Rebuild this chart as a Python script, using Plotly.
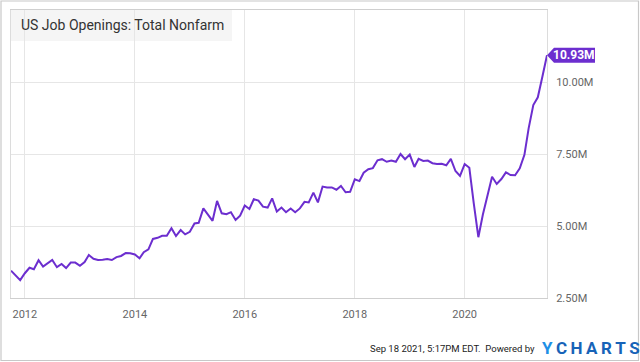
import pandas as pd
import plotly.graph_objects as go

# Monthly US job openings, total nonfarm (millions), Oct 2011 - Jul 2021
start_month = "2011-10-01"
openings_m = [
    3.45, 3.29, 3.12, 3.36, 3.55, 3.50, 3.81, 3.59, 3.70, 3.82, 3.57, 3.68,
    3.54, 3.73, 3.73, 3.62, 3.75, 3.99, 3.86, 3.82, 3.83, 3.85, 3.82, 3.92,
    3.96, 4.06, 4.05, 4.01, 3.88, 4.09, 4.19, 4.55, 4.59, 4.66, 4.66, 4.92,
    4.65, 4.86, 4.71, 4.80, 5.09, 5.11, 5.61, 5.40, 5.18, 5.87, 5.44, 5.41,
    5.48, 5.21, 5.36, 5.71, 5.59, 5.93, 5.88, 5.67, 5.64, 5.96, 5.50, 5.64,
    5.48, 5.61, 5.48, 5.61, 5.84, 5.82, 6.16, 5.82, 6.37, 6.34, 6.34, 6.26,
    6.39, 6.17, 6.19, 6.62, 6.56, 6.85, 6.97, 7.01, 7.28, 7.32, 7.23, 7.27,
    7.23, 7.50, 7.32, 7.48, 7.05, 7.33, 7.26, 7.27, 7.18, 7.15, 7.16, 7.11,
    7.33, 6.91, 6.74, 7.15, 7.02, 5.80, 4.61, 5.40, 6.10, 6.71, 6.46, 6.63,
    6.86, 6.77, 6.76, 7.00, 7.47, 8.39, 9.20, 9.47, 10.20, 10.93,
]
dates = pd.date_range(start_month, periods=len(openings_m), freq="MS")

y_ticks = [2.5, 5.0, 7.5, 10.0]
y_tick_labels = ["2.50M", "5.00M", "7.50M", "10.00M"]
x_tick_start = "2012-01-01"
title_text = "US Job Openings: Total Nonfarm"
footer_text = "Sep 18 2021, 5:17PM EDT.  Powered by"
last_label = f"{openings_m[-1]:.2f}M"

PURPLE = "#6c2ecf"
GRID = "#e6e6e6"
FONT = "Roboto"

fig = go.Figure()
fig.add_trace(go.Scatter(
    x=dates, y=openings_m, mode="lines",
    line=dict(color=PURPLE, width=2),
    hoverinfo="skip", showlegend=False,
))

fig.update_layout(
    width=640, height=362,
    margin=dict(l=11, r=93, t=10, b=64),
    paper_bgcolor="white", plot_bgcolor="white",
    font=dict(family=FONT, size=11, color="#666"),
    xaxis=dict(
        type="date",
        range=[dates[0], dates[-1]],
        tick0=x_tick_start, dtick="M24", tickformat="%Y",
        showgrid=True, gridcolor=GRID, gridwidth=1,
        showline=True, linecolor="#cfcfcf", linewidth=1, mirror=True,
        ticks="", ticklabelstandoff=6,
        tickfont=dict(family=FONT, size=11, color="#666"),
        zeroline=False,
    ),
    yaxis=dict(
        side="right",
        range=[2.5, 12.5],
        tickmode="array", tickvals=y_ticks, ticktext=y_tick_labels,
        showgrid=True, gridcolor=GRID, gridwidth=1,
        showline=True, linecolor="#dcdcdc", linewidth=1, mirror=True,
        ticks="", ticklabelstandoff=6,
        tickfont=dict(family=FONT, size=11, color="#666"),
        zeroline=False,
    ),
)

shapes = [
    # outer frame of the image
    dict(type="rect", xref="paper", yref="paper",
         x0=-10 / 536, x1=627.5 / 536, y0=-62.5 / 288, y1=297 / 288,
         line=dict(color="#c8c8c8", width=1.2), fillcolor="rgba(0,0,0,0)", layer="above"),
    # title box
    dict(type="rect", xref="paper", yref="paper",
         x0=0, x1=221 / 536, y0=1 - 31 / 288, y1=1,
         line=dict(width=0), fillcolor="#f5f5f5", layer="below"),
    # last-value tag
    dict(type="path", xref="paper", yref="y",
         xsizemode="pixel", ysizemode="pixel",
         xanchor=1, yanchor=openings_m[-1],
         path="M 0 0 L 7 7.5 L 48 7.5 L 48 -7.5 L 7 -7.5 Z",
         fillcolor=PURPLE, line=dict(width=0), layer="above"),
]
fig.update_layout(shapes=shapes)

annotations = [
    dict(xref="paper", yref="paper", x=8 / 536, y=1 - 15.5 / 288,
         xanchor="left", yanchor="middle", showarrow=False,
         text=title_text, font=dict(family=FONT, size=14, color="#333")),
    dict(xref="paper", yref="y", x=1, y=openings_m[-1],
         xanchor="center", yanchor="middle", xshift=27, showarrow=False,
         text=f"<b>{last_label}</b>", font=dict(family=FONT, size=12, color="white")),
    dict(xref="paper", yref="paper", x=526 / 536, y=-50 / 288,
         xanchor="right", yanchor="middle", showarrow=False,
         text=footer_text, font=dict(family=FONT, size=9.5, color="#222")),
    dict(xref="paper", yref="paper", x=529 / 536, y=-50 / 288,
         xanchor="left", yanchor="middle", showarrow=False,
         text="<b><span style='color:#1e90e6'>Y</span>\u2009C\u2009H\u2009A\u2009R\u2009T\u2009S</b>",
         font=dict(family=FONT, size=17, color="#1763b8")),
]
fig.update_layout(annotations=annotations)

fig.write_html(
    "out.html",
    config={"displayModeBar": False},
    post_script="document.body.style.margin='0';document.body.style.overflow='hidden';",
)
